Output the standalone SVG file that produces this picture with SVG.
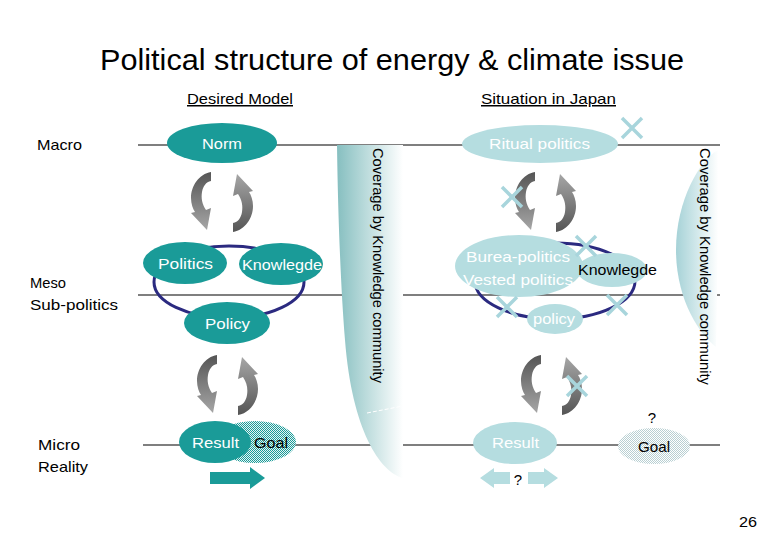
<svg xmlns="http://www.w3.org/2000/svg" width="780" height="540" viewBox="0 0 780 540">
<style>
text{font-family:"Liberation Sans","DejaVu Sans",sans-serif;font-size:15px;fill:#000}
.w{fill:#fff}
.t{fill:#1a9b98}
.lt{fill:#b5dde0}
.ring{fill:none;stroke:#2b2a80;stroke-width:3}
.lvl{stroke:#000;stroke-width:1.2}
.x{stroke:#a8d5dc;stroke-width:3.5;stroke-linecap:butt}
.ul{text-decoration:underline}
</style>
<defs>
<linearGradient id="ga" x1="0" y1="0" x2="0" y2="1">
<stop offset="0" stop-color="#555"/><stop offset="1" stop-color="#a6a6a6"/>
</linearGradient>
<linearGradient id="gc1" x1="0" y1="0" x2="1" y2="0">
<stop offset="0" stop-color="#86bfc0"/><stop offset="1" stop-color="#fff"/>
</linearGradient>
<linearGradient id="gc2" x1="0" y1="0" x2="1" y2="0">
<stop offset="0" stop-color="#a6d2d7"/><stop offset="1" stop-color="#fff"/>
</linearGradient>
<pattern id="p1" width="2" height="2" patternUnits="userSpaceOnUse">
<rect width="2" height="2" fill="#e8f4f4"/><rect width="1" height="1" fill="#1a9b98"/><rect x="1" y="1" width="1" height="1" fill="#1a9b98"/>
</pattern>
<pattern id="p2" width="2" height="2" patternUnits="userSpaceOnUse">
<rect width="2" height="2" fill="#fff"/><rect width="1" height="1" fill="#b8cfd2"/><rect x="1" y="1" width="1" height="1" fill="#b8cfd2"/>
</pattern>
<path id="cyc" d="M20,0 C8,2 0,14 0,26 C0,32 2,37 4,40 L0,41 L16,58 L20,36 L15,38 C11,32 10,26 11,20 C12,14 15,10 20,9 Z" fill="url(#ga)"/>
<path id="cx" d="M-10,-10 L10,10 M10,-10 L-10,10"/>
</defs>

<text x="392" y="70" text-anchor="middle" style="font-size:29px" textLength="584" lengthAdjust="spacingAndGlyphs">Political structure of energy &amp; climate issue</text>
<text x="240" y="104" text-anchor="middle" class="ul" textLength="106" lengthAdjust="spacingAndGlyphs">Desired Model</text>
<text x="548.5" y="104" text-anchor="middle" class="ul" textLength="135" lengthAdjust="spacingAndGlyphs">Situation in Japan</text>

<g id="levels">
<text x="37" y="150" textLength="45" lengthAdjust="spacingAndGlyphs">Macro</text>
<text x="30" y="288" textLength="36" lengthAdjust="spacingAndGlyphs">Meso</text>
<text x="30" y="310" textLength="88" lengthAdjust="spacingAndGlyphs">Sub-politics</text>
<text x="38" y="450" textLength="42" lengthAdjust="spacingAndGlyphs">Micro</text>
<text x="38" y="472" textLength="50" lengthAdjust="spacingAndGlyphs">Reality</text>
<line class="lvl" x1="138" y1="145" x2="720" y2="145"/>
<line class="lvl" x1="138" y1="295" x2="720" y2="295"/>
<line class="lvl" x1="143" y1="445" x2="720" y2="445"/>
</g>

<g id="coverage-left">
<path d="M337,145 L403,145 L403,478 C380,472 352,430 345,340 C341,290 338,220 337,145 Z" fill="url(#gc1)"/>
<line x1="367" y1="413" x2="403" y2="406" stroke="#fff" stroke-width="1" stroke-dasharray="4,2"/>
<text transform="translate(373,148) rotate(90)" textLength="235" lengthAdjust="spacingAndGlyphs">Coverage by Knowledge community</text>
</g>
<g id="coverage-right">
<path d="M718,150 C700,160 676,200 676,250 C676,300 700,335 716,347 C717,300 719,200 718,150 Z" fill="url(#gc2)"/>
<text transform="translate(700,148) rotate(90)" textLength="237" lengthAdjust="spacingAndGlyphs">Coverage by Knowledge community</text>
</g>

<g id="connectors">
<ellipse class="ring" cx="229" cy="282" rx="75" ry="36"/>
<ellipse class="ring" cx="555" cy="281" rx="80" ry="38"/>
<use href="#cyc" transform="translate(191,172)"/>
<use href="#cyc" transform="translate(253,232) rotate(180)"/>
<use href="#cyc" transform="translate(197,355)"/>
<use href="#cyc" transform="translate(258,415) rotate(180)"/>
<use href="#cyc" transform="translate(515,172)"/>
<use href="#cyc" transform="translate(576,232) rotate(180)"/>
<use href="#cyc" transform="translate(521,355)"/>
<use href="#cyc" transform="translate(582,415) rotate(180)"/>
<path d="M210,472 L250,472 L250,467 L265,478 L250,489 L250,484 L210,484 Z" class="t"/>
<path d="M480,478 L494,468 L494,472 L510,472 L510,484 L494,484 L494,488 Z" class="lt"/>
<path d="M558,478 L544,468 L544,472 L528,472 L528,484 L544,484 L544,488 Z" class="lt"/>
</g>

<g id="norm"><ellipse class="t" cx="222" cy="143" rx="55" ry="20"/><text class="w" x="222" y="149" text-anchor="middle" textLength="40" lengthAdjust="spacingAndGlyphs">Norm</text></g>
<g id="politics"><ellipse class="t" cx="185" cy="263" rx="42" ry="21"/><text class="w" x="185.5" y="269" text-anchor="middle" textLength="55" lengthAdjust="spacingAndGlyphs">Politics</text></g>
<g id="knowledge"><ellipse class="t" cx="281" cy="264" rx="42" ry="21"/><text class="w" x="282" y="270" text-anchor="middle" textLength="80" lengthAdjust="spacingAndGlyphs">Knowlegde</text></g>
<g id="policy"><ellipse class="t" cx="227" cy="323" rx="43" ry="21"/><text class="w" x="227.5" y="329" text-anchor="middle" textLength="45" lengthAdjust="spacingAndGlyphs">Policy</text></g>
<g id="goal"><ellipse fill="url(#p1)" cx="255" cy="442" rx="41" ry="21"/><text x="271" y="448" text-anchor="middle" textLength="34" lengthAdjust="spacingAndGlyphs">Goal</text></g>
<g id="result"><ellipse class="t" cx="215" cy="442" rx="36" ry="21"/><text class="w" x="215.5" y="448" text-anchor="middle" textLength="47" lengthAdjust="spacingAndGlyphs">Result</text></g>

<g id="ritual"><ellipse class="lt" cx="540" cy="144" rx="78" ry="19"/><text class="w" x="539.5" y="149" text-anchor="middle" textLength="101" lengthAdjust="spacingAndGlyphs">Ritual politics</text></g>
<g id="burea"><ellipse class="lt" cx="519" cy="266" rx="64" ry="31"/><text class="w" x="518" y="262" text-anchor="middle" textLength="104" lengthAdjust="spacingAndGlyphs">Burea-politics</text><text class="w" x="518" y="285" text-anchor="middle" textLength="110" lengthAdjust="spacingAndGlyphs">Vested politics</text></g>
<g id="knowledge-jp"><ellipse class="lt" cx="612" cy="270" rx="35" ry="17"/><text x="617.5" y="275" text-anchor="middle" textLength="79" lengthAdjust="spacingAndGlyphs">Knowlegde</text></g>
<g id="policy-jp"><ellipse class="lt" cx="555" cy="319" rx="28" ry="15"/><text class="w" x="554" y="324" text-anchor="middle" textLength="42" lengthAdjust="spacingAndGlyphs">policy</text></g>
<g id="result-jp"><ellipse class="lt" cx="515" cy="443" rx="42" ry="21"/><text class="w" x="515.5" y="448" text-anchor="middle" textLength="47" lengthAdjust="spacingAndGlyphs">Result</text></g>
<g id="goal-jp"><ellipse fill="url(#p2)" cx="654" cy="446" rx="36" ry="18"/><text x="654" y="452" text-anchor="middle" textLength="32" lengthAdjust="spacingAndGlyphs">Goal</text><text x="652" y="423" text-anchor="middle">?</text></g>
<text x="518" y="485" text-anchor="middle">?</text>

<g id="crosses" class="x">
<use href="#cx" transform="translate(632,128)"/>
<use href="#cx" transform="translate(512,197)"/>
<use href="#cx" transform="translate(586,246)"/>
<use href="#cx" transform="translate(507,307)"/>
<use href="#cx" transform="translate(617,305)"/>
<use href="#cx" transform="translate(577,386)"/>
</g>

<text x="748" y="527" text-anchor="middle" textLength="18" lengthAdjust="spacingAndGlyphs">26</text>
</svg>
